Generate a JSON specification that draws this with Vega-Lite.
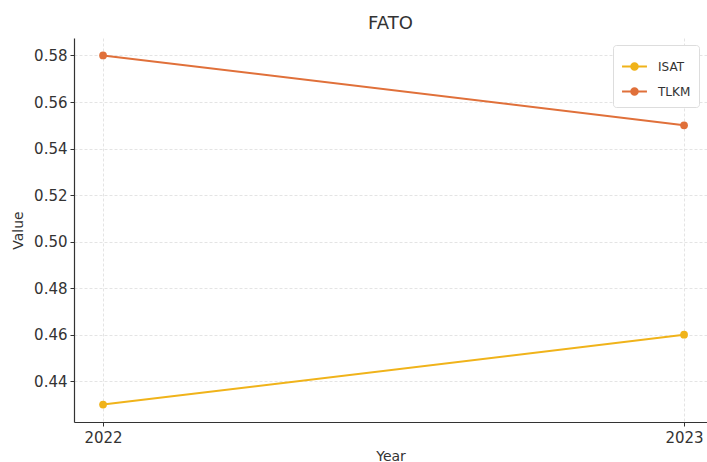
{
  "$schema": "https://vega.github.io/schema/vega-lite/v6.json",
  "width": 633,
  "height": 384,
  "autosize": {"type": "none"},
  "padding": {"left": 74, "top": 38, "right": 0, "bottom": 40},
  "background": "white",
  "title": {"text": "FATO", "fontSize": 18, "font": "DejaVu Sans", "fontWeight": "normal", "color": "#333333", "anchor": "middle", "offset": 5},
  "config": {
    "view": {"stroke": null},
    "font": "DejaVu Sans",
    "axis": {"labelFont": "DejaVu Sans", "titleFont": "DejaVu Sans", "labelColor": "#333333", "titleColor": "#333333", "titleFontWeight": "normal", "labelFontSize": 15, "titleFontSize": 14, "domainColor": "#333333", "domainWidth": 1.2, "tickColor": "#333333", "tickSize": 4, "gridColor": "#dddddd", "gridDash": [3, 2], "gridWidth": 0.8}
  },
  "data": {"values": [
    {"Year": 2022, "Value": 0.43, "Company": "ISAT"},
    {"Year": 2023, "Value": 0.46, "Company": "ISAT"},
    {"Year": 2022, "Value": 0.58, "Company": "TLKM"},
    {"Year": 2023, "Value": 0.55, "Company": "TLKM"}
  ]},
  "mark": {"type": "line", "strokeWidth": 2, "point": {"size": 60, "filled": true}},
  "encoding": {
    "x": {"field": "Year", "type": "quantitative", "scale": {"domain": [2021.95, 2023.0395], "nice": false, "zero": false},
      "axis": {"values": [2022, 2023], "format": "d", "title": "Year", "labelPadding": 4, "titlePadding": 4}},
    "y": {"field": "Value", "type": "quantitative", "scale": {"domain": [0.4225, 0.5875], "nice": false, "zero": false},
      "axis": {"values": [0.44, 0.46, 0.48, 0.5, 0.52, 0.54, 0.56, 0.58], "format": ".2f", "title": "Value", "labelPadding": 3, "titlePadding": 8}},
    "color": {"field": "Company", "type": "nominal",
      "scale": {"domain": ["ISAT", "TLKM"], "range": ["#f0b31a", "#e0703a"]},
      "legend": {"title": null, "orient": "none", "legendX": 539, "legendY": 7, "labelFontSize": 12, "labelColor": "#333333", "labelOffset": 10, "symbolType": "M-1,0H1M-0.26,0A0.26,0.26 0 1,1 0.26,0A0.26,0.26 0 1,1 -0.26,0Z", "symbolStrokeWidth": 2, "symbolSize": 620, "strokeColor": "#dddddd", "cornerRadius": 3, "padding": 8, "fillColor": "white", "rowPadding": 4}}
  }
}
